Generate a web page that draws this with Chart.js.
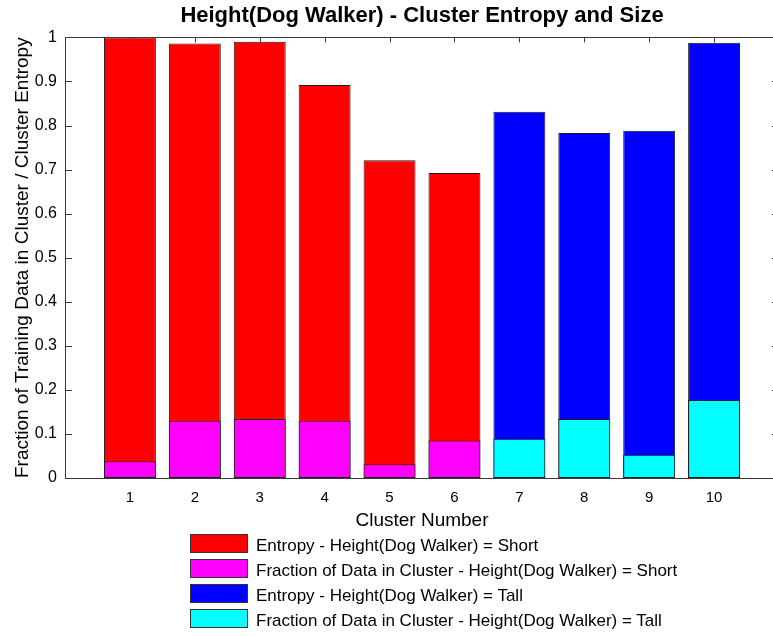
<!DOCTYPE html>
<html>
<head>
<meta charset="utf-8">
<script src="https://cdn.jsdelivr.net/npm/chart.js@4/dist/chart.umd.min.js"></script>
<style>
  html, body { margin: 0; padding: 0; background: #fff; overflow: hidden; }
  #wrap { position: relative; width: 781px; height: 636px; }
  #legend { position: absolute; left: 190px; top: 531px; font-family: "Liberation Sans", Arial, sans-serif; font-size: 17px; color: #000; }
  .row { display: flex; align-items: center; height: 25px; }
  .box { width: 56px; height: 17px; border: 1px solid #333; margin-right: 8px; box-sizing: content-box; }
  .row span { position: relative; top: 2px; }
</style>
</head>
<body>
<div id="wrap">
  <canvas id="chart" width="781" height="636"></canvas>
  <div id="legend"></div>
</div>
<script>
// Cluster numbers and per-cluster values
const clusters = [1, 2, 3, 4, 5, 6, 7, 8, 9, 10];
const shortClusters = [1, 2, 3, 4, 5, 6];
const tallClusters = [7, 8, 9, 10];
const entropyShort = [1.0, 0.986, 0.990, 0.892, 0.721, 0.692];
const fractionShort = [0.038, 0.130, 0.134, 0.130, 0.031, 0.085];
const entropyTall = [0.831, 0.783, 0.788, 0.988];
const fractionTall = [0.089, 0.134, 0.053, 0.177];

const seriesNames = [
  'Entropy - Height(Dog Walker) = Short',
  'Fraction of Data in Cluster - Height(Dog Walker) = Short',
  'Entropy - Height(Dog Walker) = Tall',
  'Fraction of Data in Cluster - Height(Dog Walker) = Tall'
];

const FONT = '"Liberation Sans", Arial, sans-serif';
const AXIS_COLOR = '#3a3a3a';

const pts = (xs, ys) => xs.map((x, i) => ({ x: x, y: ys[i] }));

const bar = (label, data, color, order) => ({
  label, data, order,
  backgroundColor: color,
  borderColor: '#1a1a1a',
  borderWidth: 1,
  borderSkipped: false,
  grouped: false,
  barPercentage: 0.8,
  categoryPercentage: 1.0
});

// Inward tick marks (under the bars) and the axes box (over the bars)
const boxAxes = {
  id: 'boxAxes',
  beforeDatasetsDraw(chart) {
    const { ctx, chartArea: a, scales: { x, y } } = chart;
    ctx.save();
    ctx.strokeStyle = AXIS_COLOR;
    ctx.lineWidth = 1;
    ctx.beginPath();
    y.ticks.forEach(t => {
      const py = Math.round(y.getPixelForValue(t.value)) + 0.5;
      ctx.moveTo(a.left, py); ctx.lineTo(a.left + 7, py);
      ctx.moveTo(a.right, py); ctx.lineTo(a.right - 7, py);
    });
    x.ticks.forEach(t => {
      const px = Math.round(x.getPixelForValue(t.value)) + 0.5;
      ctx.moveTo(px, a.top); ctx.lineTo(px, a.top + 5);
      ctx.moveTo(px, a.bottom); ctx.lineTo(px, a.bottom - 5);
    });
    ctx.stroke();
    ctx.restore();
  },
  afterDatasetsDraw(chart) {
    const { ctx, chartArea: a } = chart;
    ctx.save();
    ctx.strokeStyle = AXIS_COLOR;
    ctx.lineWidth = 1;
    ctx.strokeRect(Math.round(a.left) + 0.5, Math.round(a.top) + 0.5,
                   Math.round(a.right - a.left), Math.round(a.bottom - a.top));
    ctx.restore();
  }
};

const chart = new Chart(document.getElementById('chart'), {
  type: 'bar',
  data: {
    datasets: [
      bar(seriesNames[0], pts(shortClusters, entropyShort), '#ff0000', 2),
      bar(seriesNames[1], pts(shortClusters, fractionShort), '#ff00ff', 1),
      bar(seriesNames[2], pts(tallClusters, entropyTall), '#0000ff', 2),
      bar(seriesNames[3], pts(tallClusters, fractionTall), '#00ffff', 1)
    ]
  },
  options: {
    responsive: false,
    animation: false,
    devicePixelRatio: 1,
    layout: { padding: { left: 0, right: 2, top: 0, bottom: 98 } },
    plugins: {
      legend: { display: false },
      tooltip: { enabled: false },
      title: {
        display: true,
        fullSize: false,
        text: 'Height(Dog Walker) - Cluster Entropy and Size',
        color: '#000',
        font: { family: FONT, size: 22, weight: 'bold', lineHeight: 1.2 },
        padding: { top: 3, bottom: 8 }
      }
    },
    scales: {
      x: {
        type: 'linear',
        offset: false,
        min: 0,
        max: 11,
        afterBuildTicks: s => { s.ticks = clusters.map(v => ({ value: v })); },
        afterFit: s => { s.height = 60; },
        grid: { display: false, drawTicks: false },
        border: { display: false },
        ticks: {
          color: '#000',
          padding: 11,
          font: { family: FONT, size: 15 },
          callback: v => String(v),
          maxRotation: 0,
          autoSkip: false
        },
        title: {
          display: true,
          text: 'Cluster Number',
          color: '#000',
          font: { family: FONT, size: 19 },
          padding: { top: 0, bottom: 6 }
        }
      },
      y: {
        min: 0,
        max: 1,
        afterFit: s => { s.width = 65; },
        grid: { display: false, drawTicks: false },
        border: { display: false },
        ticks: {
          stepSize: 0.1,
          color: '#000',
          padding: 8,
          font: { family: FONT, size: 16 },
          callback: v => String(+v.toFixed(1))
        },
        title: {
          display: true,
          text: 'Fraction of Training Data in Cluster / Cluster Entropy',
          color: '#000',
          font: { family: FONT, size: 19 },
          padding: { top: 11, bottom: 0 }
        }
      }
    }
  },
  plugins: [boxAxes]
});

// Legend rows built from the dataset colours and labels
const legendEl = document.getElementById('legend');
chart.data.datasets.forEach(ds => {
  const row = document.createElement('div');
  row.className = 'row';
  const sw = document.createElement('div');
  sw.className = 'box';
  sw.style.background = ds.backgroundColor;
  const txt = document.createElement('span');
  txt.textContent = ds.label;
  row.appendChild(sw);
  row.appendChild(txt);
  legendEl.appendChild(row);
});
</script>
</body>
</html>
